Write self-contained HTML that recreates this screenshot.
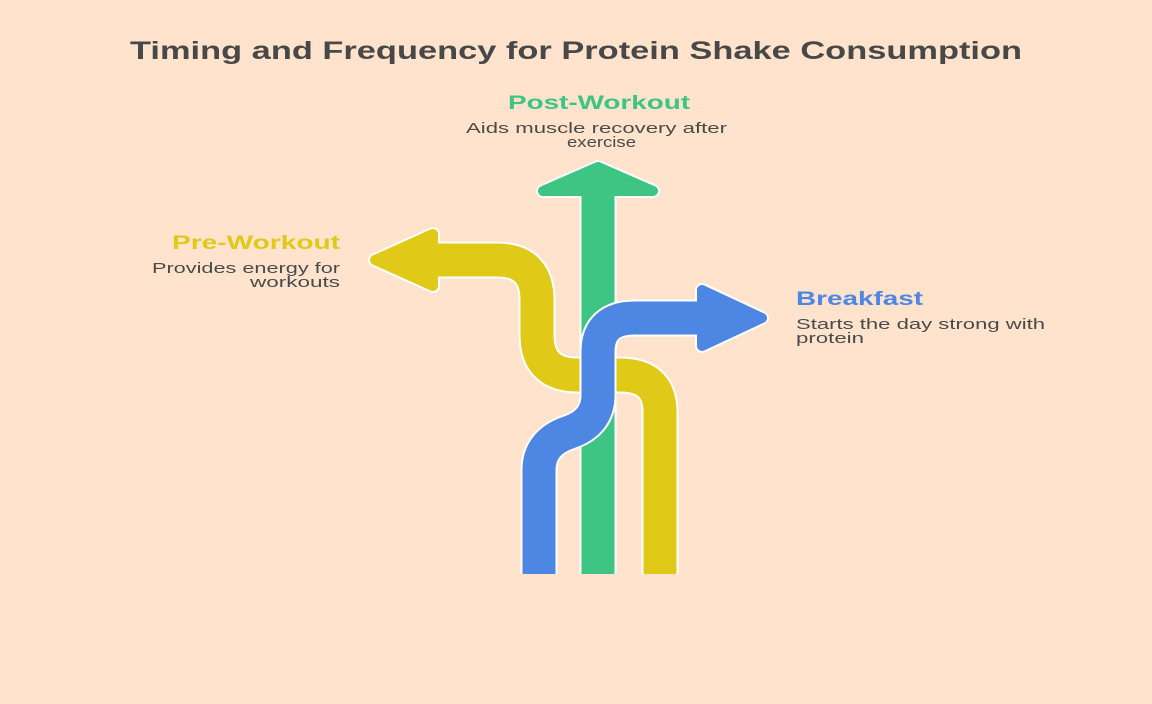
<!DOCTYPE html>
<html><head><meta charset="utf-8"><style>
html,body{margin:0;padding:0;background:#ffe3cc;}
svg{display:block;font-family:"Liberation Sans",sans-serif;}
</style></head><body>
<svg width="1152" height="704" viewBox="0 0 1152 704">
<rect width="1152" height="704" fill="#ffe3cc"/>
<text x="130" y="59" font-size="25" font-weight="bold" fill="#484848" textLength="892" lengthAdjust="spacingAndGlyphs">Timing and Frequency for Protein Shake Consumption</text>
<text x="508" y="109" font-size="19" font-weight="bold" fill="#3ec483" textLength="182" lengthAdjust="spacingAndGlyphs">Post-Workout</text>
<text x="466" y="133" font-size="15" fill="#4a4a4a" textLength="261" lengthAdjust="spacingAndGlyphs">Aids muscle recovery after</text>
<text x="567" y="147" font-size="15" fill="#4a4a4a" textLength="69" lengthAdjust="spacingAndGlyphs">exercise</text>
<text x="172" y="249" font-size="19" font-weight="bold" fill="#e0c917" textLength="168" lengthAdjust="spacingAndGlyphs">Pre-Workout</text>
<text x="152" y="273" font-size="15" fill="#4a4a4a" textLength="188" lengthAdjust="spacingAndGlyphs">Provides energy for</text>
<text x="250" y="287" font-size="15" fill="#4a4a4a" textLength="90" lengthAdjust="spacingAndGlyphs">workouts</text>
<text x="796" y="305" font-size="19" font-weight="bold" fill="#4e86e4" textLength="127" lengthAdjust="spacingAndGlyphs">Breakfast</text>
<text x="796" y="329" font-size="15" fill="#4a4a4a" textLength="249" lengthAdjust="spacingAndGlyphs">Starts the day strong with</text>
<text x="796" y="343" font-size="15" fill="#4a4a4a" textLength="68" lengthAdjust="spacingAndGlyphs">protein</text>

<g fill="none" stroke-linejoin="round">
<!-- yellow -->
<path d="M660,574 V412 Q660,375 620,375 L578,375 Q537,375 537,335 V300 Q537,260 497,260 H425" stroke="#fff" stroke-width="37"/>
<polygon points="375,260 433,234 433,286" fill="#fff" stroke="#fff" stroke-width="14"/>
<path d="M660,574 V412 Q660,375 620,375 L578,375 Q537,375 537,335 V300 Q537,260 497,260 H425" stroke="#e0c917" stroke-width="33"/>
<polygon points="375,260 433,234 433,286" fill="#e0c917" stroke="#e0c917" stroke-width="10"/>
<!-- green -->
<path d="M598,574 V188" stroke="#fff" stroke-width="37"/>
<polygon points="598,167 543,191 653,191" fill="#fff" stroke="#fff" stroke-width="14"/>
<path d="M598,574 V188" stroke="#3ec483" stroke-width="33"/>
<polygon points="598,167 543,191 653,191" fill="#3ec483" stroke="#3ec483" stroke-width="10"/>
<!-- blue -->
<path d="M539,574 V470 Q539,442 570,432 Q598,422 598,395 V352 Q598,318 635,318 H705" stroke="#fff" stroke-width="37"/>
<polygon points="762,318 702,290 702,346" fill="#fff" stroke="#fff" stroke-width="14"/>
<path d="M539,574 V470 Q539,442 570,432 Q598,422 598,395 V352 Q598,318 635,318 H705" stroke="#4e86e4" stroke-width="33"/>
<polygon points="762,318 702,290 702,346" fill="#4e86e4" stroke="#4e86e4" stroke-width="10"/>
</g>
</svg>
</body></html>
